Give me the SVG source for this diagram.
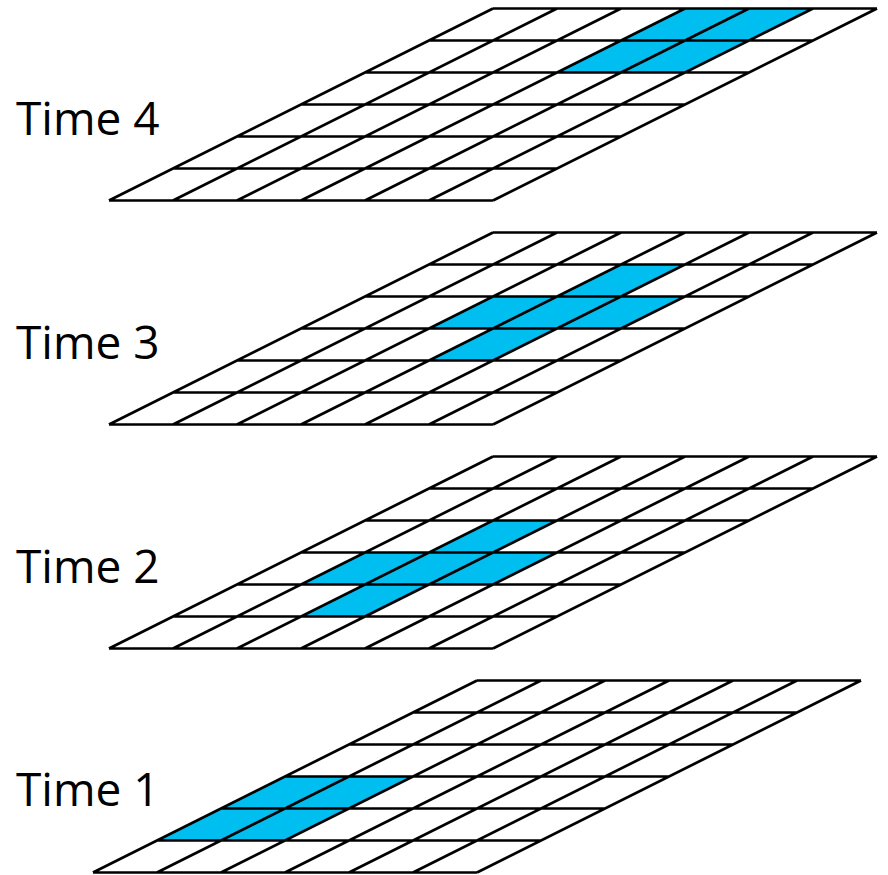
<svg xmlns="http://www.w3.org/2000/svg" xmlns:xlink="http://www.w3.org/1999/xlink" width="888" height="875" viewBox="0 0 888 875">
<style>
.grid{fill:none;stroke:#000;stroke-width:2.7;stroke-linecap:butt}
.hl{fill:#00BEF0;stroke:none}
.lbl{font-family:"Open Sans","Noto Sans","Liberation Sans",sans-serif;font-size:46px;fill:#000}
</style>
<defs>
<path id="grid" class="grid" d="M384 0H768M320 32H704M256 64H640M192 96H576M128 128H512M64 160H448M0 192H384M384 0L0 192M448 0L64 192M512 0L128 192M576 0L192 192M640 0L256 192M704 0L320 192M768 0L384 192"/>
</defs>
<rect width="888" height="875" fill="#fff"/>
<g id="time4">
<g transform="translate(109,8.5)">
<polygon class="hl" points="576,0 704,0 576,64 448,64"/>
<use xlink:href="#grid" href="#grid"/>
</g>
<text class="lbl" x="16" y="135">Time 4</text>
</g>
<g id="time3">
<g transform="translate(109,232.5)">
<polygon class="hl" points="512,32 576,32 512,64 576,64 512,96 448,96 384,128 320,128 384,96 320,96 384,64 448,64"/>
<use xlink:href="#grid" href="#grid"/>
</g>
<text class="lbl" x="16" y="359">Time 3</text>
</g>
<g id="time2">
<g transform="translate(109,456.5)">
<polygon class="hl" points="384,64 448,64 384,96 448,96 384,128 320,128 256,160 192,160 256,128 192,128 256,96 320,96"/>
<use xlink:href="#grid" href="#grid"/>
</g>
<text class="lbl" x="16" y="583">Time 2</text>
</g>
<g id="time1">
<g transform="translate(93,680.5)">
<polygon class="hl" points="192,96 320,96 192,160 64,160"/>
<use xlink:href="#grid" href="#grid"/>
</g>
<text class="lbl" x="16" y="806">Time 1</text>
</g>
<g id="connectors"></g>
</svg>
